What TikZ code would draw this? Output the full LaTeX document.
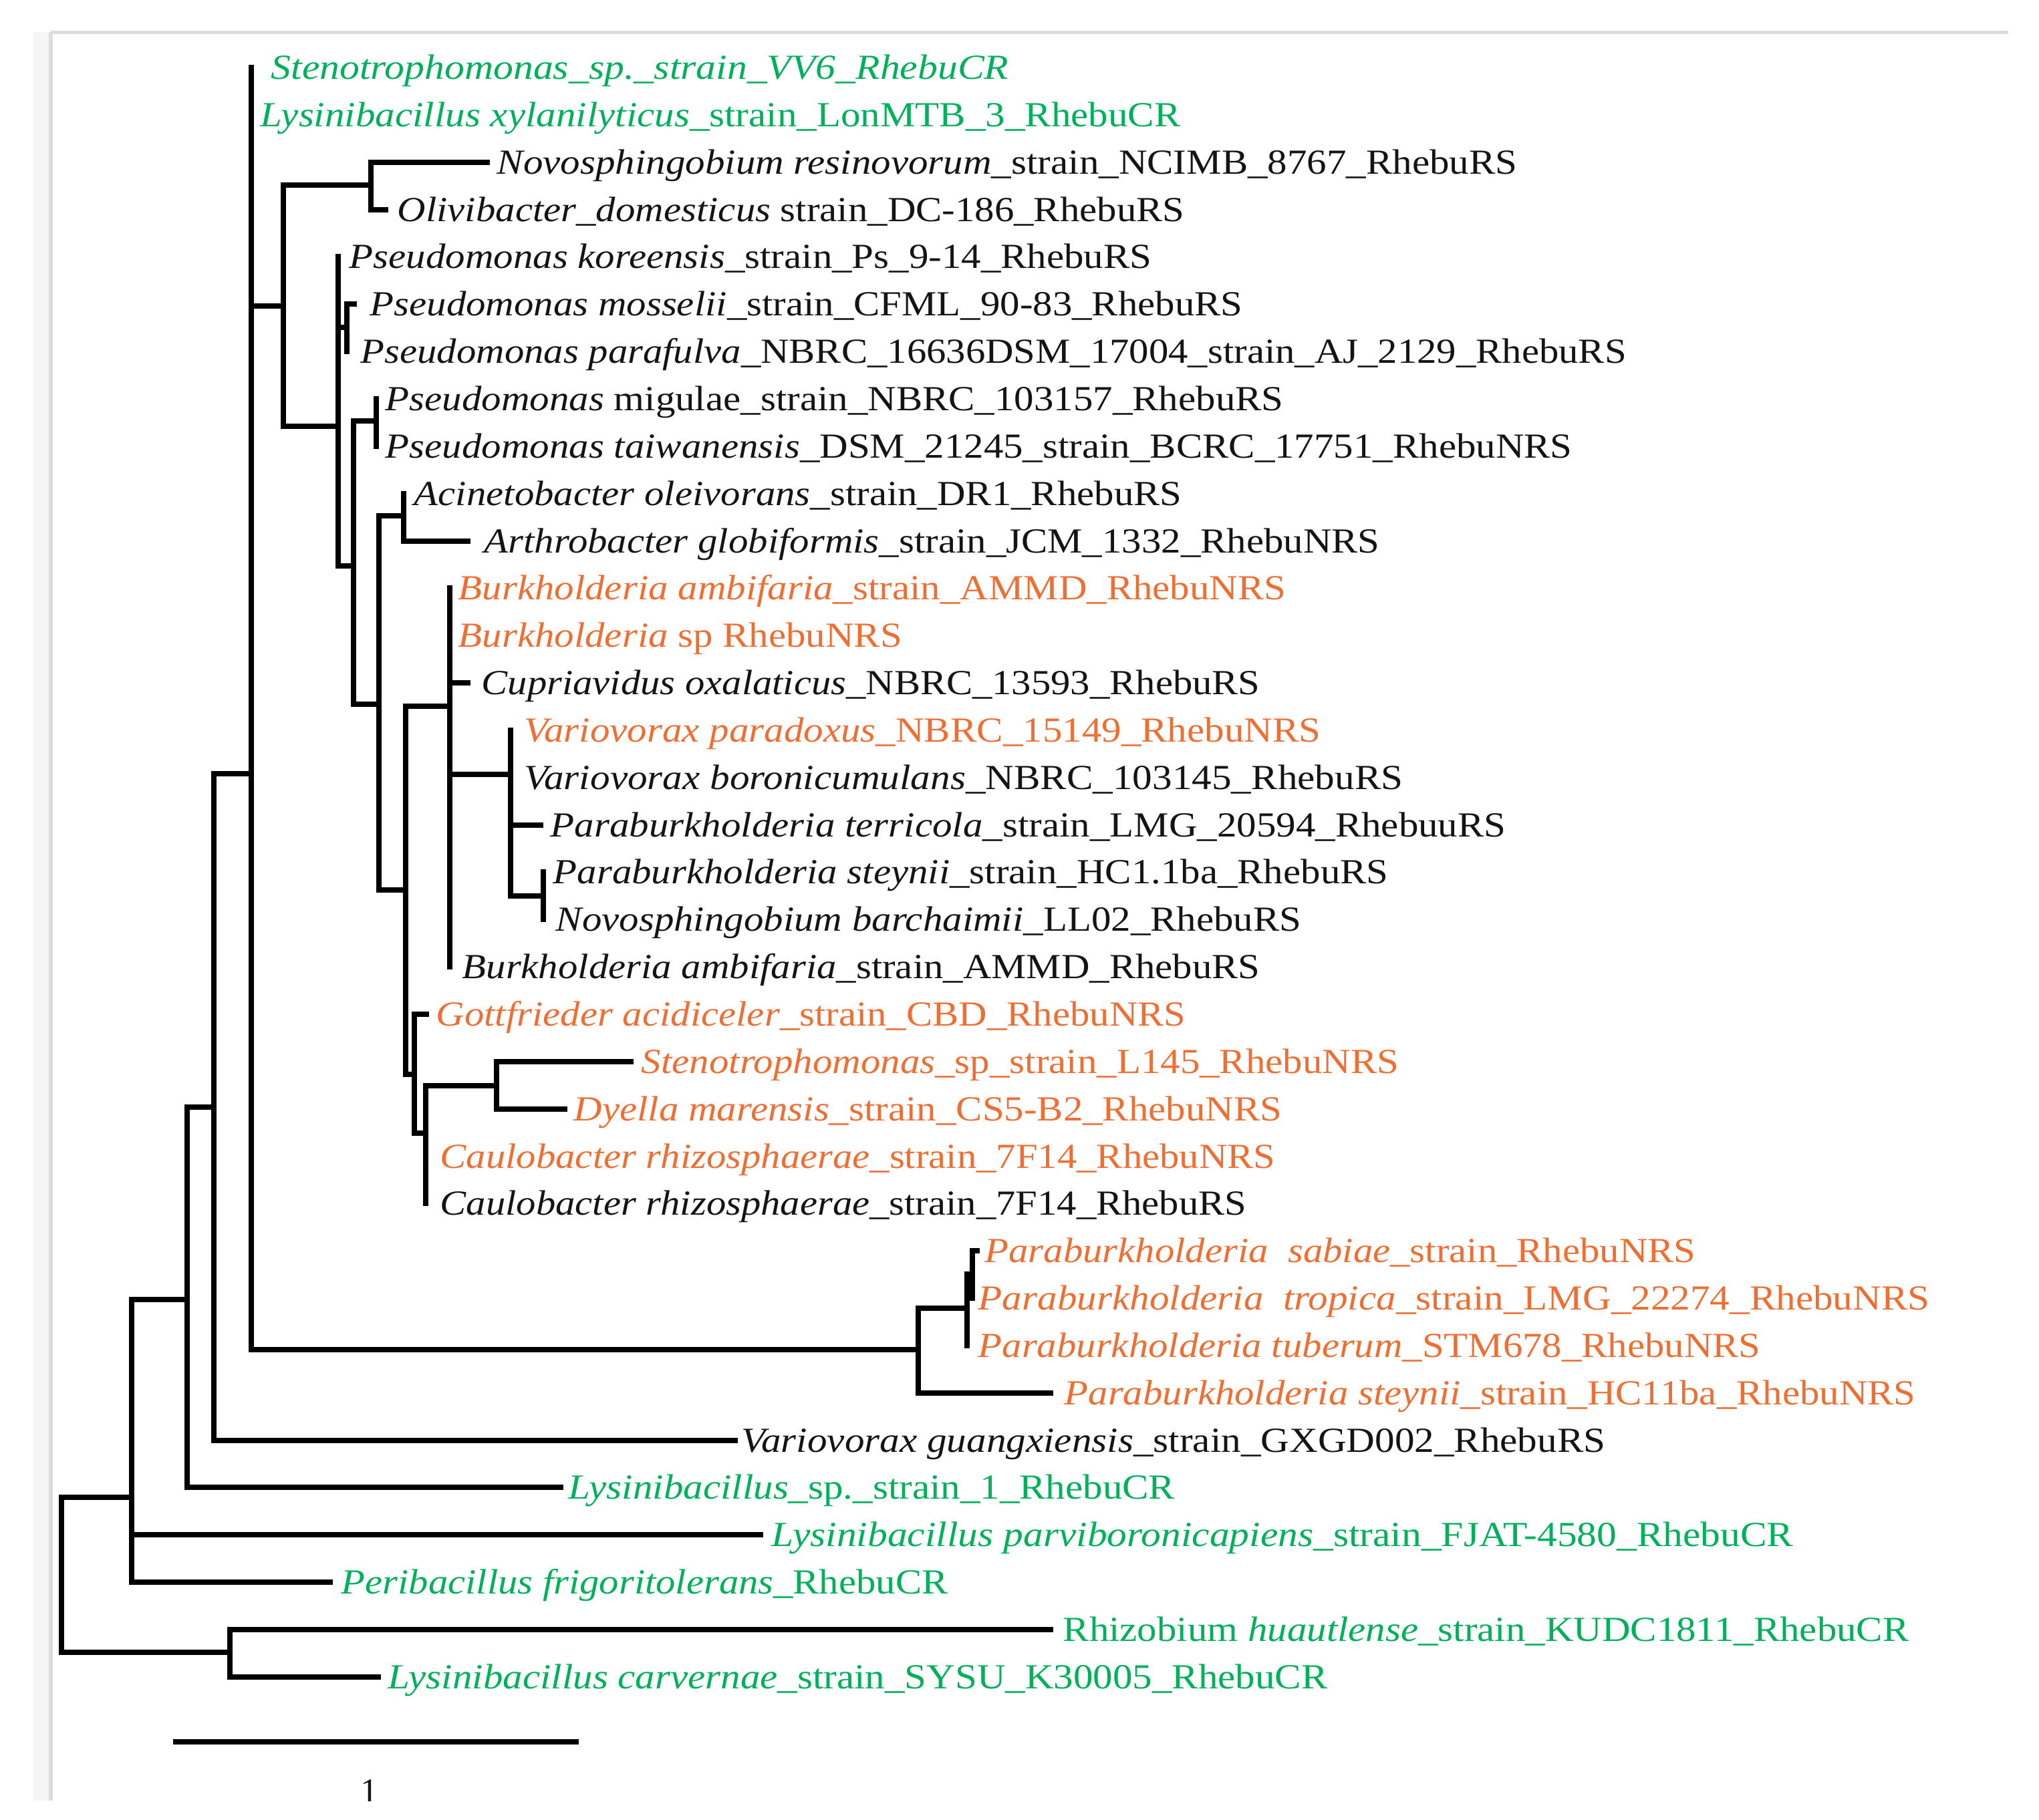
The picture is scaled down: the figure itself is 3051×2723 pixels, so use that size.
\documentclass[tikz,border=0pt]{standalone}
\usepackage{fontspec}
\setmainfont{Liberation Serif}
\usepackage{graphicx}
\definecolor{lgreen}{HTML}{00B05A}
\definecolor{lorange}{HTML}{EE6F33}
\definecolor{ltxt}{HTML}{141414}
\definecolor{framegray}{HTML}{DCDCDC}
\definecolor{bandgray}{HTML}{F5F5F5}
\newsavebox\labbox
\newcommand\lab[2]{%
  \sbox\labbox{#2}%
  \pgfmathsetmacro\labratio{#1*0.284528/\the\wd\labbox}%
  \scalebox{\labratio}[1]{\usebox\labbox}}
\begin{document}
\begin{tikzpicture}[x=0.01cm,y=-0.01cm]
\tikzset{
  br/.style={line width=0.076cm, line cap=rect, draw=black},
  lab/.style={anchor=west, inner sep=0pt, text height=9.8pt, text depth=0pt,
              font=\fontsize{15pt}{18pt}\selectfont},
  grn/.style={lab, text=lgreen},
  org/.style={lab, text=lorange},
  blk/.style={lab, text=ltxt},
  framel/.style={draw=framegray, line width=0.05cm}
}
\useasboundingbox (0,0) rectangle (3051,2723);
% window frame
\fill[bandgray] (50,48) rectangle (76,2695);
\draw[framel] (76,48) -- (3005,48);
\draw[framel] (76,48) -- (76,2695);

% internal nodes
\coordinate (R) at (92,2357);
\coordinate (N1) at (197,2241);
\coordinate (N2) at (344,2473);
\coordinate (N3) at (280,1945);
\coordinate (P1) at (320,1657);
\coordinate (A) at (376,1158);
\coordinate (B) at (424,458);
\coordinate (C) at (555,277);
\coordinate (D) at (506,638);
\coordinate (E) at (519,490);
\coordinate (G) at (529,847);
\coordinate (H) at (563,630);
\coordinate (I) at (567,1054);
\coordinate (J) at (604,772);
\coordinate (L) at (607,1332);
\coordinate (K) at (673,1057);
\coordinate (T) at (764,1159);
\coordinate (U) at (813,1341);
\coordinate (M) at (620,1608);
\coordinate (N) at (637,1696);
\coordinate (S) at (743,1625);
\coordinate (Q) at (1374,2020);
\coordinate (V) at (1447,1958);
\coordinate (W) at (1455,1907);

% leaf tips
\coordinate (t1) at (376,101);
\coordinate (t2) at (376,172);
\coordinate (t3) at (729,243);
\coordinate (t4) at (577,314);
\coordinate (t5) at (506,384);
\coordinate (t6) at (530,455);
\coordinate (t7) at (519,526);
\coordinate (t8) at (563,597);
\coordinate (t9) at (563,668);
\coordinate (t10) at (604,739);
\coordinate (t11) at (700,810);
\coordinate (t12) at (673,880);
\coordinate (t13) at (673,951);
\coordinate (t14) at (700,1022);
\coordinate (t15) at (764,1093);
\coordinate (t16) at (764,1164);
\coordinate (t17) at (809,1235);
\coordinate (t18) at (813,1305);
\coordinate (t19) at (813,1376);
\coordinate (t20) at (673,1447);
\coordinate (t21) at (638,1518);
\coordinate (t22) at (944,1589);
\coordinate (t23) at (845,1660);
\coordinate (t24) at (637,1731);
\coordinate (t25) at (637,1801);
\coordinate (t26) at (1462,1872);
\coordinate (t27) at (1455,1943);
\coordinate (t28) at (1447,2014);
\coordinate (t29) at (1572,2085);
\coordinate (t30) at (1100,2156);
\coordinate (t31) at (839,2226);
\coordinate (t32) at (1138,2297);
\coordinate (t33) at (494,2368);
\coordinate (t34) at (1572,2439);
\coordinate (t35) at (566,2510);

% branches
\foreach \p/\c in {R/N1,R/N2,N1/N3,N1/t32,N1/t33,N2/t34,N2/t35,N3/P1,N3/t31,
  P1/A,P1/t30,A/t1,A/t2,A/B,A/Q,B/C,B/D,C/t3,C/t4,D/t5,D/E,D/G,E/t6,E/t7,
  G/H,G/I,H/t8,H/t9,I/J,I/L,J/t10,J/t11,L/K,L/M,K/t12,K/t13,K/t14,K/T,K/t20,
  T/t15,T/t16,T/t17,T/U,U/t18,U/t19,M/t21,M/N,N/S,N/t24,N/t25,S/t22,S/t23,
  Q/V,Q/t29,V/W,V/t28,W/t26,W/t27}
  \draw[br] (\p) |- (\c);

% labels
\node[grn] (l1) at (405,101) {\lab{1103}{\textit{Stenotrophomonas\_sp.\_strain\_VV6\_RhebuCR}}};
\node[grn] (l2) at (389,172) {\lab{1376}{\textit{Lysinibacillus xylanilyticus}\_strain\_LonMTB\_3\_RhebuCR}};
\node[blk] (l3) at (743,243) {\lab{1526}{\textit{Novosphingobium resinovorum}\_strain\_NCIMB\_8767\_RhebuRS}};
\node[blk] (l4) at (594,314) {\lab{1177}{\textit{Olivibacter\_domesticus} strain\_DC-186\_RhebuRS}};
\node[blk] (l5) at (522,384) {\lab{1200}{\textit{Pseudomonas koreensis}\_strain\_Ps\_9-14\_RhebuRS}};
\node[blk] (l6) at (553,455) {\lab{1305}{\textit{Pseudomonas mosselii}\_strain\_CFML\_90-83\_RhebuRS}};
\node[blk] (l7) at (539,526) {\lab{1893}{\textit{Pseudomonas parafulva}\_NBRC\_16636DSM\_17004\_strain\_AJ\_2129\_RhebuRS}};
\node[blk] (l8) at (576,597) {\lab{1343}{\textit{Pseudomonas} migulae\_strain\_NBRC\_103157\_RhebuRS}};
\node[blk] (l9) at (576,668) {\lab{1775}{\textit{Pseudomonas taiwanensis}\_DSM\_21245\_strain\_BCRC\_17751\_RhebuNRS}};
\node[blk] (l10) at (619,739) {\lab{1148}{\textit{Acinetobacter oleivorans}\_strain\_DR1\_RhebuRS}};
\node[blk] (l11) at (724,810) {\lab{1339}{\textit{Arthrobacter globiformis}\_strain\_JCM\_1332\_RhebuNRS}};
\node[org] (l12) at (685,880) {\lab{1238}{\textit{Burkholderia ambifaria}\_strain\_AMMD\_RhebuNRS}};
\node[org] (l13) at (685,951) {\lab{664}{\textit{Burkholderia} sp RhebuNRS}};
\node[blk] (l14) at (720,1022) {\lab{1164}{\textit{Cupriavidus oxalaticus}\_NBRC\_13593\_RhebuRS}};
\node[org] (l15) at (784,1093) {\lab{1191}{\textit{Variovorax paradoxus}\_NBRC\_15149\_RhebuNRS}};
\node[blk] (l16) at (784,1164) {\lab{1314}{\textit{Variovorax boronicumulans}\_NBRC\_103145\_RhebuRS}};
\node[blk] (l17) at (823,1235) {\lab{1429}{\textit{Paraburkholderia terricola}\_strain\_LMG\_20594\_RhebuuRS}};
\node[blk] (l18) at (827,1305) {\lab{1249}{\textit{Paraburkholderia steynii}\_strain\_HC1.1ba\_RhebuRS}};
\node[blk] (l19) at (831,1376) {\lab{1115}{\textit{Novosphingobium barchaimii}\_LL02\_RhebuRS}};
\node[blk] (l20) at (691,1447) {\lab{1193}{\textit{Burkholderia ambifaria}\_strain\_AMMD\_RhebuRS}};
\node[org] (l21) at (652,1518) {\lab{1121}{\textit{Gottfrieder acidiceler}\_strain\_CBD\_RhebuNRS}};
\node[org] (l22) at (959,1589) {\lab{1133}{\textit{Stenotrophomonas}\_sp\_strain\_L145\_RhebuNRS}};
\node[org] (l23) at (858,1660) {\lab{1059}{\textit{Dyella marensis}\_strain\_CS5-B2\_RhebuNRS}};
\node[org] (l24) at (658,1731) {\lab{1249}{\textit{Caulobacter rhizosphaerae}\_strain\_7F14\_RhebuNRS}};
\node[blk] (l25) at (658,1801) {\lab{1206}{\textit{Caulobacter rhizosphaerae}\_strain\_7F14\_RhebuRS}};
\node[org] (l26) at (1473,1872) {\lab{1063}{\textit{Paraburkholderia\ \ sabiae}\_strain\_RhebuNRS}};
\node[org] (l27) at (1463,1943) {\lab{1423}{\textit{Paraburkholderia\ \ tropica}\_strain\_LMG\_22274\_RhebuNRS}};
\node[org] (l28) at (1463,2014) {\lab{1170}{\textit{Paraburkholderia tuberum}\_STM678\_RhebuNRS}};
\node[org] (l29) at (1592,2085) {\lab{1273}{\textit{Paraburkholderia steynii}\_strain\_HC11ba\_RhebuNRS}};
\node[blk] (l30) at (1109,2156) {\lab{1292}{\textit{Variovorax guangxiensis}\_strain\_GXGD002\_RhebuRS}};
\node[grn] (l31) at (850,2226) {\lab{907}{\textit{Lysinibacillus}\_sp.\_strain\_1\_RhebuCR}};
\node[grn] (l32) at (1154,2297) {\lab{1528}{\textit{Lysinibacillus parviboronicapiens}\_strain\_FJAT-4580\_RhebuCR}};
\node[grn] (l33) at (510,2368) {\lab{907}{\textit{Peribacillus frigoritolerans}\_RhebuCR}};
\node[grn] (l34) at (1590,2439) {\lab{1265}{Rhizobium \textit{huautlense}\_strain\_KUDC1811\_RhebuCR}};
\node[grn] (l35) at (580,2510) {\lab{1405}{\textit{Lysinibacillus carvernae}\_strain\_SYSU\_K30005\_RhebuCR}};

% scale bar
\coordinate (sb1) at (263,2607);
\coordinate (sb2) at (862,2607);
\draw[br] (sb1) -- (sb2);
\begin{scope}
  \clip (0,0) rectangle (3051,2695);
  \node[anchor=base, inner sep=0pt, text=ltxt, font=\fontsize{15pt}{18pt}\selectfont] (sblab) at (553,2698) {1};
\end{scope}
\end{tikzpicture}
\end{document}
